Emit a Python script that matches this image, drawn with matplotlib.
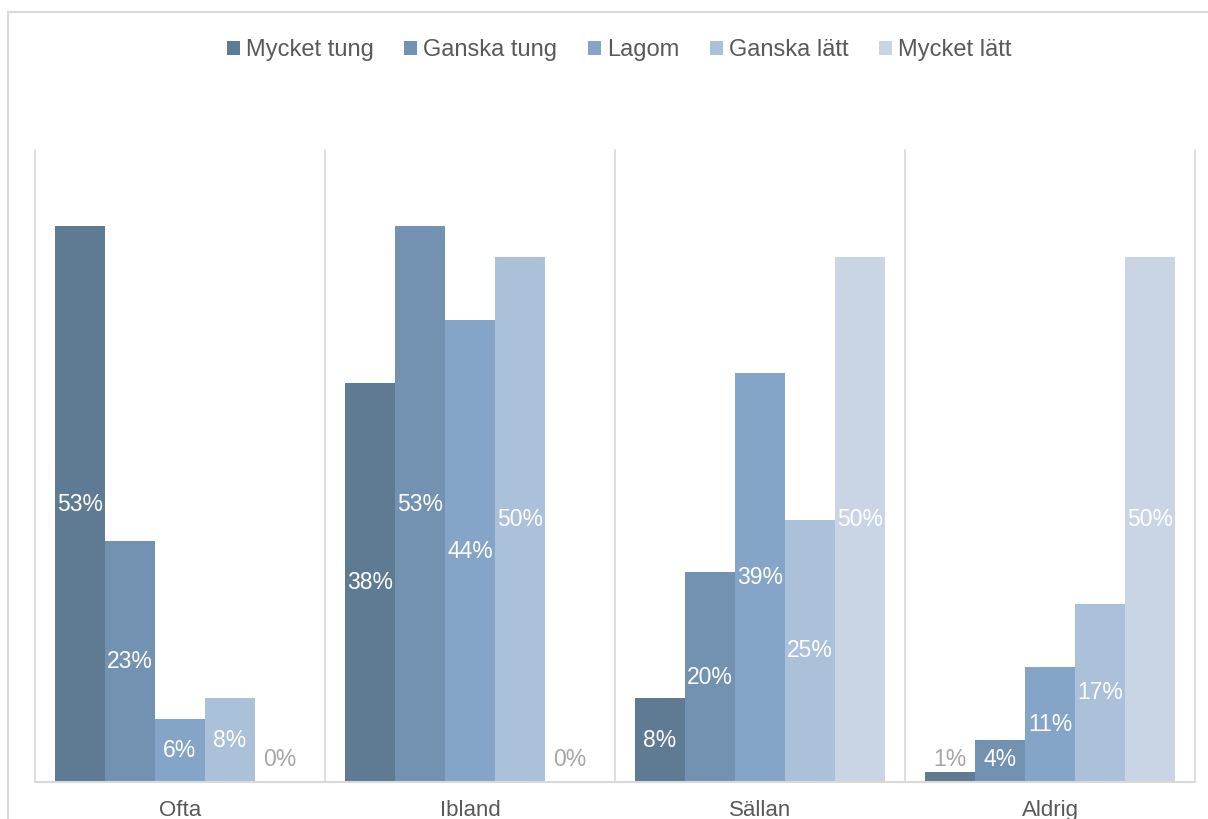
import matplotlib
matplotlib.use("Agg")
import matplotlib.pyplot as plt
from matplotlib.patches import Rectangle
import numpy as np

categories = ["Ofta", "Ibland", "Sällan", "Aldrig"]
series_names = ["Mycket tung", "Ganska tung", "Lagom", "Ganska lätt", "Mycket lätt"]
mycket_tung = [53, 38, 8, 1]
ganska_tung = [23, 53, 20, 4]
lagom = [6, 44, 39, 11]
ganska_latt = [8, 50, 25, 17]
mycket_latt = [0, 0, 50, 50]
values = [mycket_tung, ganska_tung, lagom, ganska_latt, mycket_latt]
colors = ["#5f7a93", "#7391b0", "#84a5c7", "#abc0d9", "#c9d5e4"]

plt.rcParams['font.family'] = ['Liberation Sans', 'DejaVu Sans']

W, H = 1208, 819
fig = plt.figure(figsize=(W / 100, H / 100), dpi=100)
ax = fig.add_axes([35 / W, 1 - 782 / H, (1195 - 35) / W, (782 - 150) / H])

# chart border (partially visible)
fig.patches.append(Rectangle((8 / W, -0.5), 2.0, 1.5 - 12 / H, transform=fig.transFigure,
                             fill=False, edgecolor="#d9d9d9", linewidth=1.5, zorder=0))

x = np.arange(len(categories))
bw = 50 / 290
ymax = 632 / 556 * 53
min_label = 53 * (782 - 759) / 556

for i, (name, vals, col) in enumerate(zip(series_names, values, colors)):
    pos = x + (i - 2) * bw
    ax.bar(pos, vals, width=bw, color=col, label=name, zorder=2)
    for px_, v in zip(pos, vals):
        ly = max(v / 2, min_label)
        tc = "white" if ly < v else "#a6a6a6"
        ax.text(px_, ly, f"{v}%", ha="center", va="center", color=tc, fontsize=16.5, zorder=3)

ax.set_xlim(-0.5, len(categories) - 0.5)
ax.set_ylim(0, ymax)
for b in np.arange(-0.5, len(categories), 1.0):
    ax.axvline(b, color="#d9d9d9", linewidth=1.2, zorder=1, clip_on=False)
for s in ["top", "left", "right"]:
    ax.spines[s].set_visible(False)
ax.spines["bottom"].set_color("#d9d9d9")
ax.spines["bottom"].set_linewidth(1.5)
ax.set_yticks([])
ax.set_xticks(x)
ax.set_xticklabels(categories, fontsize=16, color="#595959")
ax.tick_params(axis="x", length=0, pad=13)

leg = fig.legend(loc="center", bbox_to_anchor=(619 / W, 1 - 50 / H), ncol=5, frameon=False,
                 fontsize=17, handlelength=0.55, handleheight=0.55, handletextpad=0.25,
                 columnspacing=1.3, labelcolor="#595959")

fig.savefig("out.png", dpi=100)
